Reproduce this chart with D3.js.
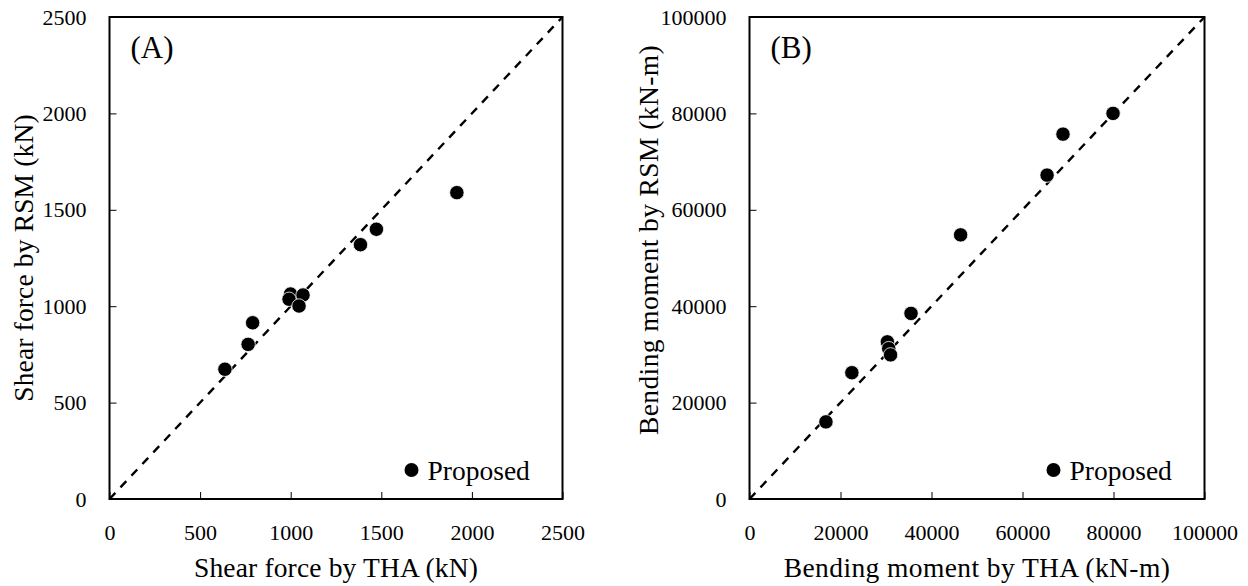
<!DOCTYPE html>
<html>
<head>
<meta charset="utf-8">
<script src="https://cdn.jsdelivr.net/npm/d3@7"></script>
<style>
  html, body { margin: 0; padding: 0; background: #fff; }
  svg { display: block; }
  text { font-family: "Liberation Serif", "Times New Roman", serif; fill: #000; }
</style>
</head>
<body>
<svg id="chart" width="1248" height="586"></svg>
<script>
// ---------- data ----------
const shearTHA = [637, 765, 790, 999, 991, 1068, 1046, 1385, 1473, 1917];
const shearRSM = [673, 802, 914, 1063, 1036, 1058, 1001, 1319, 1399, 1589];
const shearTicks = [0, 500, 1000, 1500, 2000, 2500];

const bendTHA = [16800, 22500, 30300, 30600, 31000, 35500, 46400, 65400, 68900, 79900];
const bendRSM = [16000, 26200, 32600, 31200, 29900, 38500, 54800, 67200, 75700, 80000];
const bendTicks = [0, 20000, 40000, 60000, 80000, 100000];

const panelLabels = ["(A)", "(B)"];
const xTitles = ["Shear force by THA (kN)", "Bending moment by THA (kN-m)"];
const yTitles = ["Shear force by RSM (kN)", "Bending moment by RSM (kN-m)"];
const legendLabel = "Proposed";

// ---------- layout ----------
const svg = d3.select("#chart");
const plotTop = 17, plotBottom = 499;

const panels = [
  { left: 109.5, right: 562.5, xs: shearTHA, ys: shearRSM, ticks: shearTicks,
    label: panelLabels[0], xt: xTitles[0], yt: yTitles[0], yTitleX: 23.5, yTitleC: 258, ls: 0.15 },
  { left: 749.5, right: 1204.5, xs: bendTHA, ys: bendRSM, ticks: bendTicks,
    label: panelLabels[1], xt: xTitles[1], yt: yTitles[1], yTitleX: 648, yTitleC: 240, ls: 0.4 }
];

panels.forEach(p => {
  const dom = [p.ticks[0], p.ticks[p.ticks.length - 1]];
  const x = d3.scaleLinear().domain(dom).range([p.left, p.right]);
  const y = d3.scaleLinear().domain(dom).range([plotBottom, plotTop]);
  const g = svg.append("g");

  // x axis (ticks inward)
  const xAxis = g.append("g")
    .attr("transform", `translate(0,${plotBottom})`)
    .call(d3.axisBottom(x).tickValues(p.ticks).tickSize(-7).tickPadding(25).tickFormat(d3.format("d")));
  xAxis.select(".domain").remove();
  xAxis.selectAll(".tick line").attr("stroke", "#000").attr("stroke-width", 1);
  xAxis.selectAll(".tick text").style("font-family", "Liberation Serif, serif").style("font-size", "22px").attr("fill", "#000");

  // y axis
  const yAxis = g.append("g")
    .attr("transform", `translate(${p.left},0)`)
    .call(d3.axisLeft(y).tickValues(p.ticks).tickSize(-7).tickPadding(23).tickFormat(d3.format("d")));
  yAxis.select(".domain").remove();
  yAxis.selectAll(".tick line").attr("stroke", "#000").attr("stroke-width", 1);
  yAxis.selectAll(".tick text").style("font-family", "Liberation Serif, serif").style("font-size", "22px").attr("fill", "#000");

  // frame
  g.append("rect")
    .attr("x", p.left).attr("y", plotTop)
    .attr("width", p.right - p.left).attr("height", plotBottom - plotTop)
    .attr("fill", "none").attr("stroke", "#000").attr("stroke-width", 2);

  // 1:1 dashed line
  g.append("path")
    .datum(dom)
    .attr("d", d3.line().x(d => x(d)).y(d => y(d)))
    .attr("fill", "none").attr("stroke", "#000")
    .attr("stroke-width", 2.4).attr("stroke-dasharray", "8.5,7.5");

  // points
  g.selectAll("circle.pt")
    .data(p.xs.map((v, i) => [v, p.ys[i]]))
    .join("circle")
    .attr("class", "pt")
    .attr("cx", d => x(d[0])).attr("cy", d => y(d[1]))
    .attr("r", 7.2).attr("fill", "#000")
    .attr("stroke", "#fff").attr("stroke-width", 0.8);

  // panel label
  g.append("text")
    .attr("x", p.left + 21).attr("y", 58)
    .style("font-size", "31px")
    .text(p.label);

  // legend
  g.append("circle")
    .attr("cx", p.right - 151).attr("cy", 470).attr("r", 7).attr("fill", "#000");
  g.append("text")
    .attr("x", p.right - 135).attr("y", 470).attr("dy", "0.35em")
    .style("font-size", "27.5px")
    .text(legendLabel);

  // x title
  g.append("text")
    .attr("x", (p.left + p.right) / 2).attr("y", 577)
    .attr("text-anchor", "middle")
    .style("font-size", "27.5px")
    .style("letter-spacing", p.ls + "px")
    .text(p.xt);

  // y title
  g.append("text")
    .attr("transform", "rotate(-90)")
    .attr("x", -p.yTitleC).attr("y", p.yTitleX).attr("dy", "0.35em")
    .attr("text-anchor", "middle")
    .style("font-size", "27.5px")
    .style("letter-spacing", p.ls + "px")
    .text(p.yt);
});
</script>
</body>
</html>
